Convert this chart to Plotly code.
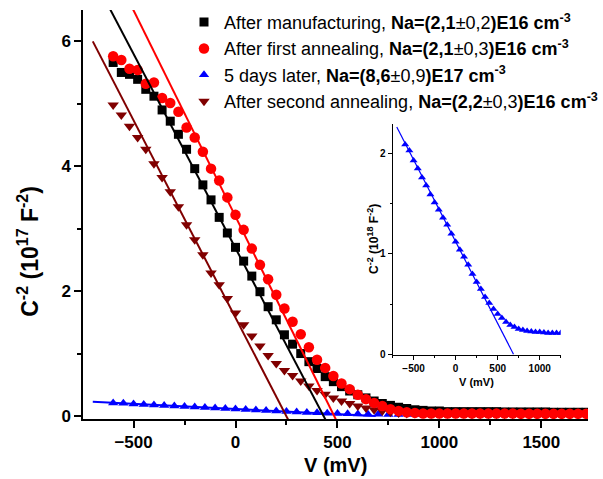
import plotly.graph_objects as go

# ---- measured data -------------------------------------------------------
# Bias grid for the three CV series (mV)
v_grid = [-600, -560, -520, -480, -440, -400, -360, -320, -280, -240,
          -200, -160, -120, -80, -40, 0, 40, 80, 120, 160,
          200, 240, 280, 320, 360, 400, 440, 480, 520, 560,
          600, 640, 680, 720, 760, 800, 840, 880, 920, 960,
          1000, 1040, 1080, 1120, 1160, 1200, 1240, 1280, 1320, 1360,
          1400, 1440, 1480, 1520, 1560, 1600, 1640, 1680, 1720]

# C^-2, units of 1e17 F^-2
c_manufactured = [5.66, 5.50, 5.47, 5.39, 5.23, 5.12, 4.90, 4.72, 4.51, 4.27,
                  3.96, 3.70, 3.46, 3.18, 2.93, 2.70, 2.48, 2.24, 1.99, 1.75,
                  1.54, 1.30, 1.15, 1.00, 0.87, 0.76, 0.63, 0.55, 0.47, 0.40,
                  0.34, 0.29, 0.24, 0.20, 0.17, 0.14, 0.12, 0.10, 0.09, 0.08,
                  0.08, 0.07, 0.07, 0.07, 0.07, 0.07, 0.07, 0.07, 0.065, 0.065,
                  0.065, 0.065, 0.065, 0.065, 0.06, 0.06, 0.06, 0.06, 0.06]

c_first_anneal = [5.76, 5.70, 5.56, 5.54, 5.32, 5.34, 5.09, 5.01, 4.87, 4.62,
                  4.46, 4.23, 3.96, 3.77, 3.50, 3.22, 2.98, 2.68, 2.42, 2.19,
                  1.94, 1.72, 1.51, 1.31, 1.10, 0.90, 0.77, 0.64, 0.52, 0.43,
                  0.34, 0.27, 0.21, 0.16, 0.11, 0.08, 0.06, 0.05, 0.04, 0.04,
                  0.04, 0.04, 0.04, 0.04, 0.04, 0.04, 0.04, 0.04, 0.04, 0.04,
                  0.035, 0.035, 0.035, 0.035, 0.035, 0.035, 0.035, 0.035, 0.035]

c_second_anneal = [4.98, 4.82, 4.64, 4.46, 4.27, 4.04, 3.82, 3.59, 3.35, 3.06,
                   2.82, 2.58, 2.29, 2.10, 1.88, 1.65, 1.46, 1.28, 1.12, 0.97,
                   0.84, 0.73, 0.65, 0.56, 0.48, 0.41, 0.35, 0.29, 0.24, 0.20,
                   0.16, 0.13, 0.10, 0.08, 0.06, 0.05, 0.04, 0.04, 0.04, 0.035,
                   0.035, 0.035, 0.035, 0.035, 0.03, 0.03, 0.03, 0.03, 0.03, 0.03,
                   0.03, 0.03, 0.03, 0.03, 0.03, 0.03, 0.03, 0.03, 0.03]

# "5 days later" series: 50 mV grid, C^-2 in units of 1e18 F^-2 (inset scale)
v_days5 = [-600, -550, -500, -450, -400, -350, -300, -250, -200, -150,
           -100, -50, 0, 50, 100, 150, 200, 250, 300, 350,
           400, 450, 500, 550, 600, 650, 700, 750, 800, 850,
           900, 950, 1000, 1050, 1100, 1150, 1200, 1250, 1300, 1350,
           1400, 1450, 1500, 1550, 1600, 1650, 1700]
c_days5 = [2.09, 2.03, 1.93, 1.85, 1.76, 1.68, 1.59, 1.51, 1.44, 1.36,
           1.29, 1.20, 1.12, 1.04, 0.97, 0.89, 0.80, 0.72, 0.65, 0.57,
           0.51, 0.45, 0.40, 0.36, 0.32, 0.29, 0.27, 0.25, 0.24, 0.23,
           0.225, 0.22, 0.22, 0.215, 0.21, 0.21, 0.21, 0.21, 0.21, 0.205,
           0.205, 0.205, 0.20, 0.20, 0.20, 0.20, 0.20]
MAIN_SCALE_DAYS5 = 0.1  # factor applied to the 5-days series on the main axes

# Linear fits: C^-2 = slope * (v_intercept - V)
fit_manufactured = dict(slope=0.00622, v0=432)
fit_first_anneal = dict(slope=0.0066, v0=484)
fit_second_anneal = dict(slope=0.00632, v0=249)
fit_days5 = dict(slope=0.00163, v0=688)
fit_v_start = -700

# ---- styling -------------------------------------------------------------
FONT = "Liberation Sans, Arial, sans-serif"
BLACK, RED, BLUE, WINE = "#000000", "#ff0000", "#0000ff", "#800000"


def fit_line(fit, v_end, scale=1.0):
    vs = [fit_v_start, v_end]
    return vs, [scale * fit["slope"] * (fit["v0"] - v) for v in vs]


def sup(txt, size):
    return f"<sup><span style='font-size:{size}px'>{txt}</span></sup>"


fig = go.Figure()

# data markers (draw order: blue, wine, black, red); legend order via legendrank
fig.add_trace(go.Scatter(
    x=v_days5, y=[c * MAIN_SCALE_DAYS5 for c in c_days5], mode="markers",
    name="5 days later, <b>Na=(8,6</b>±0,9<b>)E17 cm<sup>-3</sup></b>",
    marker=dict(symbol="triangle-up", size=9, color=BLUE), legendrank=3))
fig.add_trace(go.Scatter(
    x=v_grid, y=c_second_anneal, mode="markers",
    name="After second annealing, <b>Na=(2,2</b>±0,3<b>)E16 cm<sup>-3</sup></b>",
    marker=dict(symbol="triangle-down", size=10, color=WINE), legendrank=4))
fig.add_trace(go.Scatter(
    x=v_grid, y=c_manufactured, mode="markers",
    name="After manufacturing, <b>Na=(2,1</b>±0,2<b>)E16 cm<sup>-3</sup></b>",
    marker=dict(symbol="square", size=9, color=BLACK), legendrank=1))
fig.add_trace(go.Scatter(
    x=v_grid, y=c_first_anneal, mode="markers",
    name="After first annealing, <b>Na=(2,1</b>±0,3<b>)E16 cm<sup>-3</sup></b>",
    marker=dict(symbol="circle", size=10.5, color=RED), legendrank=2))

# fit lines on the main axes
for fit, col, v_end, sc in [
    (fit_days5, BLUE, fit_days5["v0"], MAIN_SCALE_DAYS5),
    (fit_second_anneal, WINE, 300, 1.0),
    (fit_manufactured, BLACK, 500, 1.0),
    (fit_first_anneal, RED, 550, 1.0),
]:
    xs, ys = fit_line(fit, v_end, sc)
    fig.add_trace(go.Scatter(x=xs, y=ys, mode="lines", showlegend=False,
                             line=dict(color=col, width=2), hoverinfo="skip"))

# inset: 5-days series at full scale
fig.add_trace(go.Scatter(
    x=v_days5, y=c_days5, mode="markers", showlegend=False,
    marker=dict(symbol="triangle-up", size=7, color=BLUE),
    xaxis="x2", yaxis="y2"))
xs, ys = fit_line(fit_days5, fit_days5["v0"])
fig.add_trace(go.Scatter(x=xs, y=ys, mode="lines", showlegend=False,
                         line=dict(color=BLUE, width=1.2),
                         xaxis="x2", yaxis="y2"))

axis_common = dict(showgrid=False, zeroline=False, showline=True,
                   linecolor=BLACK, ticks="outside", tickcolor=BLACK)

fig.update_layout(
    width=603, height=479,
    margin=dict(l=83, r=0, t=10, b=60),
    paper_bgcolor="white", plot_bgcolor="white",
    font=dict(family=FONT, color=BLACK),
    xaxis=dict(range=[-748, 1729], domain=[0, 1], tick0=0, dtick=500,
               linewidth=1.5, tickwidth=1.5, ticklen=7,
               minor=dict(dtick=250, ticklen=4, tickwidth=1.5,
                          tickcolor=BLACK, ticks="outside"),
               tickfont=dict(size=17, weight="bold", family=FONT),
               **axis_common),
    yaxis=dict(range=[-0.048, 6.5], domain=[0, 1], tick0=0, dtick=2,
               linewidth=1.5, tickwidth=1.5, ticklen=7,
               minor=dict(dtick=1, ticklen=4, tickwidth=1.5,
                          tickcolor=BLACK, ticks="outside"),
               tickfont=dict(size=17, weight="bold", family=FONT),
               **axis_common),
    xaxis2=dict(range=[-750, 1250], domain=[0.613, 0.946], anchor="y2",
                tick0=0, dtick=500, linewidth=1, tickwidth=1, ticklen=4,
                minor=dict(dtick=250, ticklen=2, tickwidth=1,
                           tickcolor=BLACK, ticks="outside"),
                tickfont=dict(size=10, weight="bold", family=FONT),
                **axis_common),
    yaxis2=dict(range=[-0.01, 2.29], domain=[0.156, 0.7205], anchor="x2",
                tick0=0, dtick=1, linewidth=1, tickwidth=1, ticklen=4,
                minor=dict(dtick=0.5, ticklen=2, tickwidth=1,
                           tickcolor=BLACK, ticks="outside"),
                tickfont=dict(size=10, weight="bold", family=FONT),
                **axis_common),
    legend=dict(x=0.2, y=1.015, xanchor="left", yanchor="top",
                bgcolor="rgba(0,0,0,0)", font=dict(size=18, family=FONT),
                itemwidth=30, tracegroupgap=0),
    annotations=[
        dict(text="<b>V (mV)</b>", xref="paper", yref="paper", x=0.5,
             y=-0.1125, xanchor="center", yanchor="middle", showarrow=False,
             font=dict(size=20, family=FONT)),
        dict(text=f"<b>C{sup('-2', 16)} (10{sup('17', 16)} F{sup('-2', 16)})</b>",
             xref="paper", yref="paper", x=-0.108, y=0.41, textangle=-90,
             xanchor="center", yanchor="middle", showarrow=False,
             font=dict(size=23, family=FONT)),
        dict(text="<b>V (mV)</b>", xref="paper", yref="paper", x=0.779,
             y=0.0905, xanchor="center", yanchor="middle", showarrow=False,
             font=dict(size=11, family=FONT)),
        dict(text=f"<b>C{sup('-2', 9)} (10{sup('18', 9)} F{sup('-2', 9)})</b>",
             xref="paper", yref="paper", x=0.574, y=0.44, textangle=-90,
             xanchor="center", yanchor="middle", showarrow=False,
             font=dict(size=12, family=FONT)),
    ],
)

fig.write_html("out.html")
